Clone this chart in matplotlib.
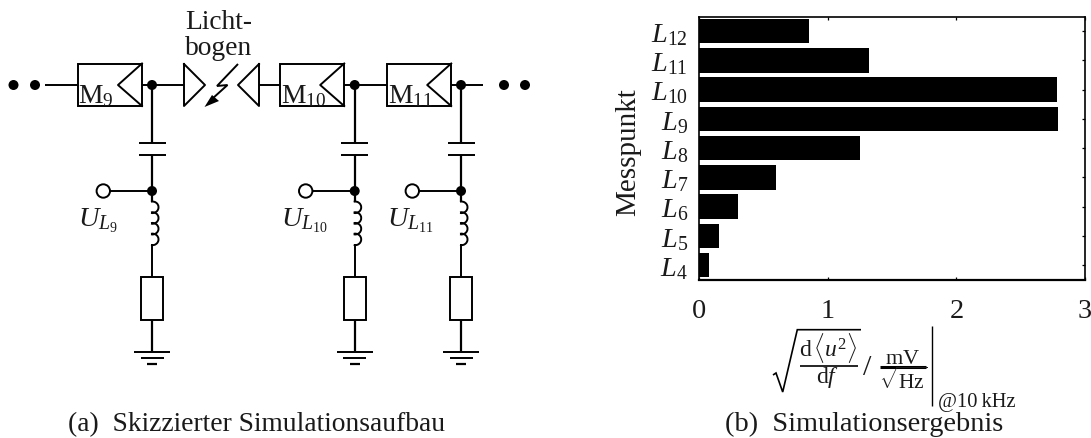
import matplotlib.pyplot as plt
from matplotlib.patches import Arc, Circle, Rectangle

plt.rcParams['font.family'] = ['Liberation Serif', 'DejaVu Serif']
plt.rcParams['mathtext.fontset'] = 'custom'
plt.rcParams['mathtext.rm'] = 'Liberation Serif'
plt.rcParams['mathtext.it'] = 'Liberation Serif:italic'
plt.rcParams['mathtext.bf'] = 'Liberation Serif:bold'

W, H = 1091, 439

# Balken von unten nach oben
messpunkte = ['$L_{4}$', '$L_{5}$', '$L_{6}$', '$L_{7}$', '$L_{8}$', '$L_{9}$', '$L_{10}$', '$L_{11}$', '$L_{12}$']
werte = [0.08, 0.155, 0.30, 0.595, 1.255, 2.79, 2.78, 1.325, 0.855]
x_ticks = [0, 1, 2, 3]

fs = 19.8
lw = 1.4
tc = '#1a1a1a'

fig = plt.figure(figsize=(W / 100, H / 100), dpi=100)

# Skizze und Formeln in Pixelkoordinaten
bg = fig.add_axes([0, 0, 1, 1])
bg.set_xlim(0, W)
bg.set_ylim(H, 0)
bg.axis('off')


def line(xs, ys, width=lw):
    bg.plot(xs, ys, color='black', lw=width, solid_capstyle='butt', solid_joinstyle='miter')


def dot(x, y, r=5):
    bg.add_patch(Circle((x, y), r, fc='black', ec='none', zorder=3))


def module(x, name):
    bg.add_patch(Rectangle((x, 64.5), 64.5, 42.5, fc='white', ec='black', lw=lw, zorder=2))
    bg.plot([x + 64.5, x + 40.5, x + 64.5], [64.5, 86, 107], color='black', lw=lw, zorder=2.5)
    bg.text(x + 1, 103, name, fontsize=fs, va='baseline', ha='left', color=tc, zorder=4)


def branch(x, x_term, label):
    line([x, x], [86, 143.5], 1.6)
    line([x - 13.5, x + 13.5], [143.5, 143.5])
    line([x - 13.5, x + 13.5], [156, 156])
    line([x, x], [156, 203], 1.6)
    dot(x, 86)
    dot(x, 192)
    line([x_term, x], [192, 192])
    bg.add_patch(Circle((x_term, 192), 6.7, fc='white', ec='black', lw=lw, zorder=3))
    # Spule
    for k in range(4):
        bg.add_patch(Arc((x + 0.5, 208.3 + k * 10.7), 12, 11.5, theta1=-105, theta2=105, ec='black', lw=lw))
    line([x, x], [245, 278], 1.4)
    bg.add_patch(Rectangle((x - 11, 278), 22, 42.5, fc='white', ec='black', lw=lw))
    line([x, x], [320.5, 352], 1.6)
    line([x - 18, x + 18], [352.5, 352.5])
    line([x - 11.5, x + 11.5], [358.5, 358.5])
    line([x - 5, x + 5], [365, 365], 1.6)
    bg.text(x_term - 25, 226, label, fontsize=fs + 0.6, va='baseline', ha='left', color=tc)


# Hauptleitung
line([45, 77.5], [86, 86])
line([142, 184], [86, 86])
line([259, 280], [86, 86])
line([344, 386.7], [86, 86])
line([451, 482.7], [86, 86])
for x in [13.5, 35, 504, 525]:
    dot(x, 86)

module(77.5, r'$\mathrm{M}_{9}$')
module(279.7, r'$\mathrm{M}_{10}$')
module(386.7, r'$\mathrm{M}_{11}$')

branch(152, 103.3, '$U_{L_{9}}$')
branch(354.7, 305.7, '$U_{L_{10}}$')
branch(461, 412.3, '$U_{L_{11}}$')

# Lichtbogen
bg.plot([184, 205, 184, 184], [65, 86, 107, 65], color='black', lw=lw)
bg.plot([259, 238, 259, 259], [65, 86, 107, 65], color='black', lw=lw)
line([238, 217, 227.5, 212], [65, 87, 86, 100])
bg.fill([204.5, 212, 219], [108, 96, 102], color='black', lw=0)
bg.text(185, 29, 'Licht-', fontsize=fs, va='baseline', ha='left', color=tc)
bg.text(185, 55, 'bogen', fontsize=fs, va='baseline', ha='left', color=tc)

# Balkendiagramm
ax = fig.add_axes([699 / W, 1 - 280.7 / H, (1085 - 699) / W, (280.7 - 17.5) / H])
ax.patch.set_alpha(0)
ax.barh(range(len(werte)), werte, height=0.84, color='black')
ax.set_xlim(0, 3)
ax.set_ylim(-0.5, 8.5)
ax.set_xticks(x_ticks)
ax.set_yticks(range(len(messpunkte)))
ax.set_yticklabels(messpunkte, fontsize=fs + 0.5, color=tc)
ax.tick_params(axis='both', direction='in', top=True, right=True, length=2.5, width=0.9)
ax.tick_params(axis='x', labelsize=fs + 0.5, pad=13, labelcolor=tc)
ax.tick_params(axis='y', pad=8)
ax.set_ylabel('Messpunkt', fontsize=fs + 1.2, color=tc)
ax.yaxis.set_label_coords(-(699 - 641) / 386, 0.49)
for s in ax.spines.values():
    s.set_linewidth(1.2)
ax.spines['bottom'].set_linewidth(1.6)

# Achsenbeschriftung als Formel
line([773, 776, 782.7, 797.3, 861], [376, 374, 393, 330.7, 330.7], 1.2)
line([800, 857.7], [366.7, 366.7], 1.2)
bg.text(828, 356.7, r'$\mathrm{d}\,\langle u^{2}\rangle$', fontsize=fs - 2.8, ha='center', va='baseline', color=tc)
bg.text(828, 383, r'$\mathrm{d}f$', fontsize=fs - 2.8, ha='center', va='baseline', color=tc)
bg.text(867.5, 375, '/', fontsize=fs + 2, ha='center', va='baseline', color=tc)
line([880, 926], [368, 368], 2.2)
bg.text(903, 364.5, r'$\mathrm{mV}$', fontsize=fs - 3.8, ha='center', va='baseline', color=tc)
bg.text(903, 389, r'$\sqrt{\mathrm{Hz}}$', fontsize=fs - 4.3, ha='center', va='baseline', color=tc)
line([932.3, 932.3], [327, 407], 1.0)
bg.text(937.5, 407, '@10\u2009kHz', fontsize=fs - 5, ha='left', va='baseline', color=tc)

# Unterschriften
bg.text(68, 431, '(a)  Skizzierter Simulationsaufbau', fontsize=fs, ha='left', va='baseline', color=tc)
bg.text(725, 431, '(b)  Simulationsergebnis', fontsize=fs + 0.6, ha='left', va='baseline', color=tc)

plt.savefig('out.png', dpi=100)
